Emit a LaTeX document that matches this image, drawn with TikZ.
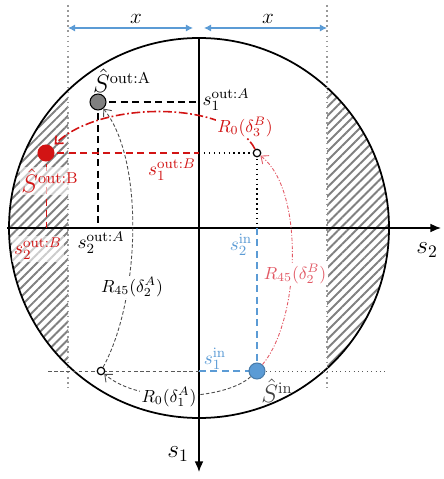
\documentclass[tikz,border=0pt]{standalone}
\usepackage{amsmath}
\usetikzlibrary{arrows.meta,patterns.meta}

\definecolor{axblue}{RGB}{91,155,213}
\definecolor{axred}{RGB}{210,20,20}
\definecolor{axpink}{RGB}{226,88,100}

\begin{document}
\begin{tikzpicture}[
  x=0.02cm, y=-0.02cm,
  dot/.style={circle, draw, inner sep=0pt, minimum size=0.32cm, line width=0.6pt},
  hole/.style={circle, draw, fill=white, inner sep=0pt, minimum size=0.15cm, line width=0.7pt},
  guide/.style={dotted, line width=0.9pt, draw=black!40},
  dim/.style={{Latex[length=4pt,width=4pt]}-{Latex[length=4pt,width=4pt]}, draw=axblue, line width=0.6pt},
  axis/.style={-{Latex[length=6pt,width=5pt]}, line width=0.8pt},
  bdash/.style={dash pattern=on 4pt off 2.5pt, line width=0.8pt},
  rdash/.style={dash pattern=on 4pt off 2.5pt, line width=0.8pt, draw=axred},
  bdot/.style={dotted, line width=0.8pt},
  bldash/.style={dash pattern=on 4pt off 2.5pt, line width=0.8pt, draw=axblue},
  gdash/.style={dash pattern=on 2pt off 1.5pt, line width=0.5pt, draw=black!65},
  rot/.style={-{Straight Barb[length=3.5pt,width=6pt]}, dash pattern=on 2pt off 1.2pt, line width=0.5pt, draw=black!70},
  rrot/.style={-{Straight Barb[length=3.5pt,width=6pt]}, dash pattern=on 5pt off 1.5pt on 1pt off 1.5pt, line width=0.9pt, draw=axred},
  prot/.style={-{Straight Barb[length=3.5pt,width=6pt]}, dash pattern=on 2pt off 1pt on 0.6pt off 1pt, line width=0.5pt, draw=axpink},
  lbl/.style={inner sep=1pt, fill=white},
  pt/.style={font=\fontsize{13.5}{16}\selectfont, inner sep=1pt},
  proj/.style={font=\fontsize{11}{13}\selectfont, inner sep=1pt},
  hatch/.style={pattern={Lines[angle=45,distance=3.6pt,line width=1.1pt]}, pattern color=black!50}
]
\useasboundingbox (0,0) rectangle (443,479);

\coordinate (O) at (199,228);
\coordinate (cA) at (98,102);
\coordinate (cB) at (46,153);
\coordinate (cin) at (257,371);
\coordinate (hB) at (257,153);
\coordinate (hA) at (101,371);

% excluded bands
\begin{scope}
  \clip (O) circle [radius=190];
  \fill[hatch] (0,0) rectangle (68,479);
  \fill[hatch] (327,0) rectangle (443,479);
\end{scope}
\draw[line width=1pt] (O) circle [radius=190];

\coordinate (lt) at (68,5);
\coordinate (lb) at (68,388);
\coordinate (rt) at (327,5);
\coordinate (rb) at (327,388);
\draw[guide] (lt) -- (lb);
\draw[guide] (rt) -- (rb);

\coordinate (xa) at (68,28);
\coordinate (xb) at (193,28);
\coordinate (xc) at (204,28);
\coordinate (xd) at (327,28);
\draw[dim] (xa) -- (xb);
\draw[dim] (xc) -- (xd);
\node[font=\large] (xl) at (136,19) {$x$};
\node[font=\large] (xr) at (268,19) {$x$};

% axes
\coordinate (ax1) at (7,228);
\coordinate (ax2) at (441,228);
\coordinate (ay1) at (199,38);
\coordinate (ay2) at (199,472);
\draw[axis] (ax1) -- (ax2);
\draw[axis] (ay1) -- (ay2);
\node[font=\Large] (s2) at (427,250) {$s_2$};
\node[font=\Large] (s1) at (178,454) {$s_1$};

% projections
\draw[bdash] (cA) -- (cA -| O);
\draw[bdash] (cA) -- (cA |- O);
\draw[rdash] (cB) -- (cB -| O);
\draw[rdash, line width=0.5pt] (cB) -- (cB |- O);
\draw[bdot] (hB -| O) -- (hB) -- (hB |- O);
\coordinate (hl) at (48,371);
\coordinate (hr) at (385,371);
\draw[gdash] (hl) -- (cin -| O);
\draw[gdash, dotted] (cin) -- (hr);
\draw[bldash] (hB |- O) -- (cin) -- (cin -| O);

% points
\node[dot, fill=black!50] (outA) at (cA) {};
\node[dot, fill=axred, draw=axred] (outB) at (cB) {};
\node[dot, fill=axblue, draw=axblue!80!black] (sin) at (cin) {};
\node[hole] (pB) at (hB) {};
\node[hole] (pA) at (hA) {};

% rotations
\draw[rot] (sin) .. controls (225,400) and (140,405) .. (pA);
\draw[rot] (pA) .. controls (140,300) and (145,160) .. (outA);
\draw[rrot, shorten >=2pt] (pB) .. controls (230,100) and (100,100) .. (outB);
\draw[prot] (sin) .. controls (300,320) and (305,190) .. (pB);

\node[lbl] (r1) at (169,397) {$R_0(\delta_1^A)$};
\node[lbl] (r2) at (132,287) {$R_{45}(\delta_2^A)$};
\node[lbl, text=axred] (r3) at (245,127) {$R_0(\delta_3^B)$};
\node[lbl, text=axpink] (r4) at (295,274) {$R_{45}(\delta_2^B)$};

% labels
\node[pt] (tA) at (122,81) {$\hat{S}^{\mathrm{out{:}A}}$};
\node[pt, text=axred, fill=white, fill opacity=0.6, text opacity=1] (tB) at (50,181) {$\hat{S}^{\mathrm{out{:}B}}$};
\node[pt, text=black!75] (tin) at (277,391) {$\hat{S}^{\mathrm{in}}$};
\node[proj] (a1) at (226,100) {$s_1^{\mathrm{out}:A}$};
\node[proj] (a2) at (101,243) {$s_2^{\mathrm{out}:A}$};
\node[proj, text=axred] (b1) at (172,170) {$s_1^{\mathrm{out}:B}$};
\node[proj, text=axred, fill=white, fill opacity=0.6, text opacity=1] (b2) at (38,249) {$s_2^{\mathrm{out}:B}$};
\node[proj, text=axblue] (i1) at (215,359) {$s_1^{\mathrm{in}}$};
\node[proj, text=axblue] (i2) at (241,245) {$s_2^{\mathrm{in}}$};

\end{tikzpicture}
\end{document}
